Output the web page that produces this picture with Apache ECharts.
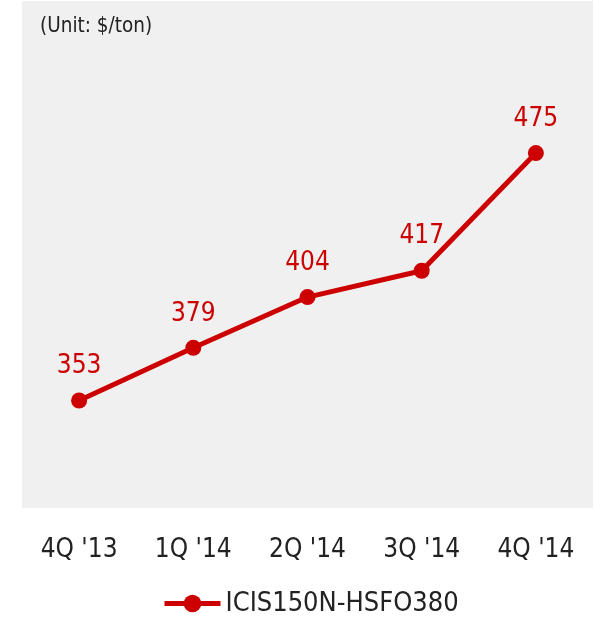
<!DOCTYPE html>
<html>
<head>
<meta charset="utf-8">
<script src="https://cdn.jsdelivr.net/npm/echarts@6/dist/echarts.min.js"></script>
<style>
html, body { margin: 0; padding: 0; background: #fff; }
#chart { width: 594px; height: 620px; }
</style>
</head>
<body>
<div id="chart"></div>
<script>
var categories = ['4Q \'13', '1Q \'14', '2Q \'14', '3Q \'14', '4Q \'14'];
var spreadValues = [353, 379, 404, 417, 475];
var seriesName = 'ICIS150N-HSFO380';

var font = '"DejaVu Sans Condensed", "Liberation Sans Narrow", sans-serif';
var myChart = echarts.init(document.getElementById('chart'));
var option = {
	animation: false,
	backgroundColor: '#ffffff',
	textStyle: { fontFamily: font },
	graphic: [
		{
			type: 'text',
			left: 40,
			top: 16,
			z: 10,
			style: {
				text: '(Unit: $/ton)',
				fontFamily: font,
				fontSize: 20.5,
				fill: '#222222'
			}
		}
	],
	grid: {
		show: true,
		left: 22,
		right: 1,
		top: 1,
		bottom: 112,
		backgroundColor: '#f0f0f0',
		borderWidth: 0
	},
	legend: {
		top: 585,
		left: 157,
		itemWidth: 56,
		itemHeight: 22,
		itemGap: 0,
		lineStyle: { width: 5 },
		textStyle: { fontFamily: font, fontSize: 27, color: '#222222' },
		data: [seriesName]
	},
	xAxis: {
		type: 'category',
		data: categories,
		boundaryGap: true,
		axisLine: { show: false },
		axisTick: { show: false },
		axisLabel: { fontFamily: font, fontSize: 26, color: '#222222', margin: 29 }
	},
	yAxis: {
		type: 'value',
		min: 300,
		max: 550,
		show: false,
		splitLine: { show: false }
	},
	series: [
		{
			name: seriesName,
			type: 'line',
			data: spreadValues,
			symbol: 'circle',
			symbolSize: 16,
			lineStyle: { color: '#cc0000', width: 5 },
			itemStyle: { color: '#cc0000' },
			label: {
				show: true,
				position: 'top',
				distance: 13,
				fontFamily: font,
				fontSize: 26,
				color: '#cc0000'
			}
		}
	]
};
myChart.setOption(option);
</script>
</body>
</html>
